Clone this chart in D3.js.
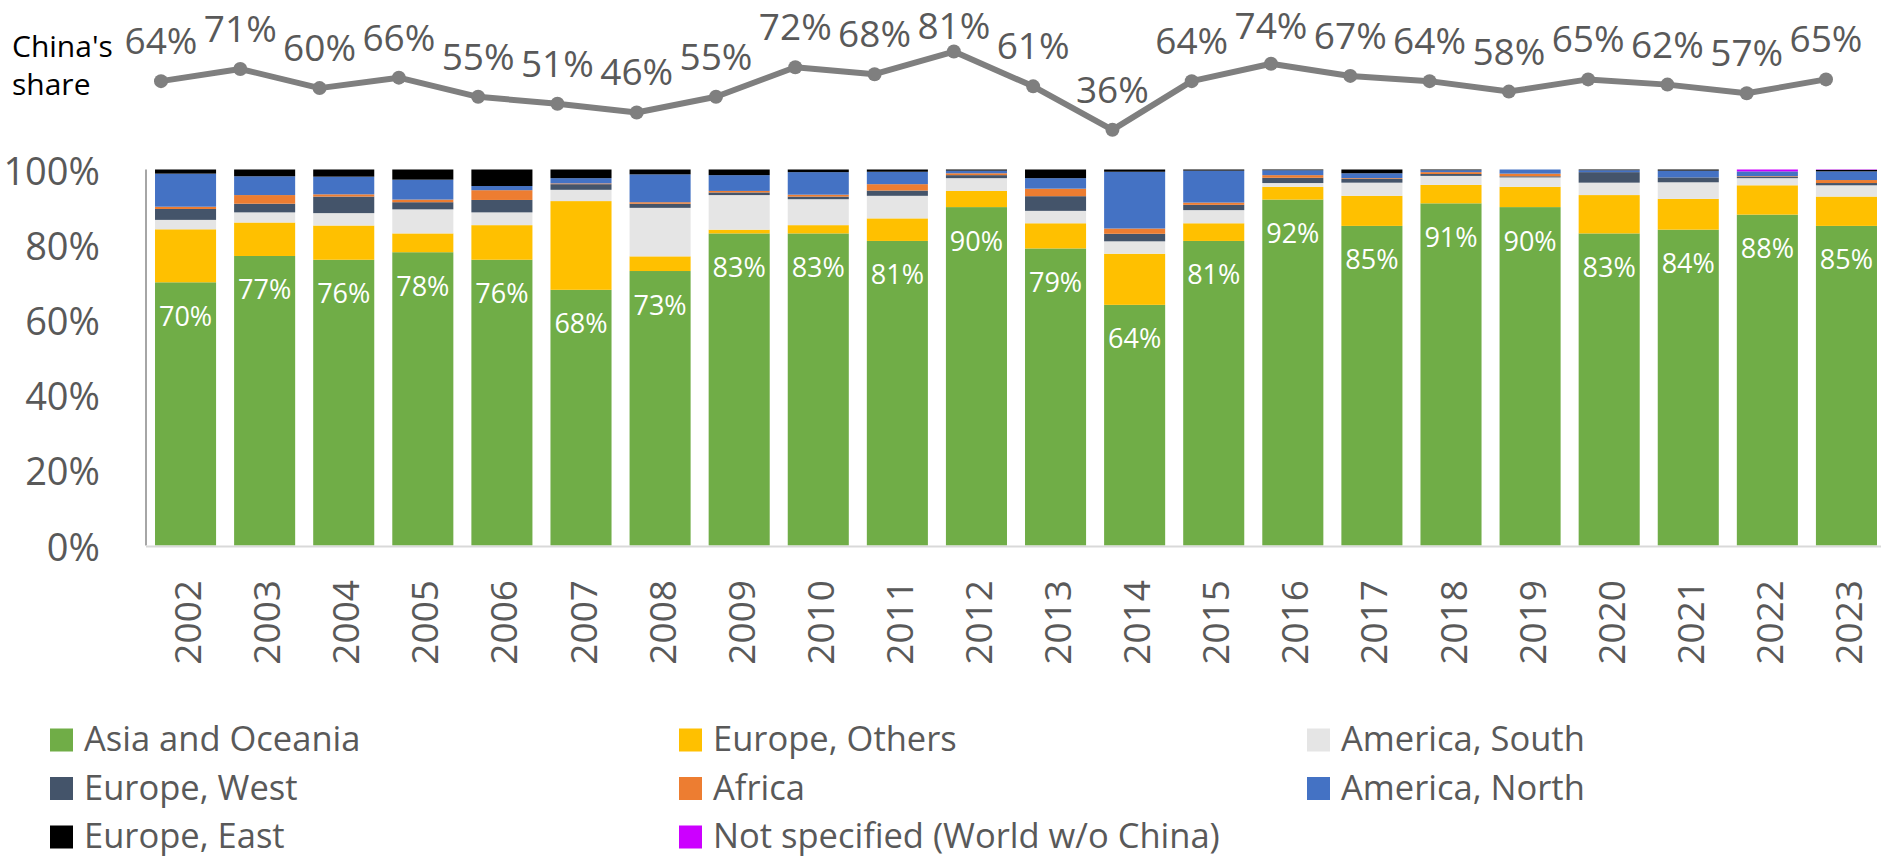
<!DOCTYPE html>
<html>
<head>
<meta charset="utf-8">
<script src="https://cdn.jsdelivr.net/npm/d3@7"></script>
<style>
  html, body { margin: 0; padding: 0; background: #fff; }
  svg { display: block; font-family: "Open Sans", "Noto Sans", sans-serif; }
</style>
</head>
<body>
<svg id="chart" width="1881" height="858"></svg>
<script>
// Years on the x axis
const years = ["2002","2003","2004","2005","2006","2007","2008","2009","2010","2011","2012",
               "2013","2014","2015","2016","2017","2018","2019","2020","2021","2022","2023"];

// Regional shares of exports (percent of each year's total)
const asiaOceania   = [70, 77, 76, 78, 76, 68, 73, 83, 83, 81, 90, 79, 64, 81, 92, 85, 91, 90, 83, 84, 88, 85];
const europeOthers  = [14.1, 8.9, 9.1, 5.0, 9.2, 23.6, 3.9, 1.0, 2.2, 6.0, 4.3, 6.7, 13.6, 4.7, 3.4, 8.0, 4.9, 5.4, 10.2, 8.2, 7.8, 7.8];
const americaSouth  = [2.5, 2.7, 3.3, 6.4, 3.4, 3.0, 12.9, 9.2, 6.9, 6.0, 3.4, 3.3, 3.3, 3.5, 1.0, 3.5, 2.4, 2.5, 3.3, 4.4, 1.9, 3.0];
const europeWest    = [2.9, 2.3, 4.4, 1.9, 3.3, 1.5, 1.1, 0.7, 0.7, 1.4, 0.8, 3.9, 2.0, 1.4, 1.4, 1.0, 0.5, 0.3, 2.8, 1.3, 0.3, 0.6];
const africa        = [0.6, 2.3, 0.6, 0.7, 2.6, 0.2, 0.4, 0.4, 0.5, 1.7, 0.5, 2.0, 1.4, 0.6, 0.7, 0.2, 0.5, 0.7, 0, 0, 0.2, 0.8];
const americaNorth  = [8.8, 5.0, 4.7, 5.3, 1.1, 1.4, 7.4, 4.2, 6.0, 3.3, 0.7, 2.8, 15.1, 8.5, 1.3, 1.3, 0.5, 1.1, 0.5, 1.8, 1.3, 2.3];
const europeEast    = [1.1, 1.8, 1.9, 2.7, 4.4, 2.3, 1.3, 1.5, 0.7, 0.6, 0.3, 2.3, 0.6, 0.3, 0.2, 1.0, 0.2, 0, 0.2, 0.3, 0, 0.4];
const notSpecified  = [0, 0, 0, 0, 0, 0, 0, 0, 0, 0, 0, 0, 0, 0, 0, 0, 0, 0, 0, 0, 0.5, 0.1];

// China's share line
const chinaShare = [64, 71, 60, 66, 55, 51, 46, 55, 72, 68, 81, 61, 36, 64, 74, 67, 64, 58, 65, 62, 57, 65];

// Y axis tick values
const yTicks = [0, 20, 40, 60, 80, 100];

const seriesNames = ["Asia and Oceania", "Europe, Others", "America, South", "Europe, West",
                     "Africa", "America, North", "Europe, East", "Not specified (World w/o China)"];
const seriesValues = [asiaOceania, europeOthers, americaSouth, europeWest,
                      africa, americaNorth, europeEast, notSpecified];
const seriesColors = ["#70AD47", "#FFC000", "#E5E5E5", "#44546A",
                      "#ED7D31", "#4472C4", "#000000", "#CC00FF"];

const rows = years.map((y, i) => {
  const r = { year: y };
  seriesNames.forEach((n, k) => { r[n] = seriesValues[k][i]; });
  return r;
});

const svg = d3.select("#chart");
const textGray = "#595959";

// Scales for the stacked bars
const x = d3.scaleBand().domain(years).range([146, 1886]).paddingInner(0.228).paddingOuter(0.114);
const y = d3.scaleLinear().domain([0, 100]).range([545.5, 169.5]);

// Scales for the line above the bars
const xLine = d3.scalePoint().domain(years).range([161, 1826]);
const yLine = d3.scaleLinear().domain([0, 100]).range([192.5, 18.5]);

const stacked = d3.stack().keys(seriesNames)(rows);

// Bars
const layers = svg.append("g").selectAll("g")
  .data(stacked).join("g")
  .attr("fill", (d, i) => seriesColors[i]);

layers.selectAll("rect")
  .data(d => d).join("rect")
  .attr("x", d => x(d.data.year))
  .attr("width", x.bandwidth())
  .attr("y", d => y(d[1]))
  .attr("height", d => Math.max(0, y(d[0]) - y(d[1])));

// Value labels inside the green segment
svg.append("g").selectAll("text")
  .data(stacked[0]).join("text")
  .attr("x", d => x(d.data.year) + x.bandwidth() / 2)
  .attr("y", d => y(d[1]) + 33)
  .attr("text-anchor", "middle")
  .attr("dominant-baseline", "central")
  .attr("fill", "#fff")
  .attr("font-size", 27)
  .text(d => d3.format(".0f")(d.data[seriesNames[0]]) + "%");

// Y axis
const yAxis = svg.append("g");
yAxis.append("line")
  .attr("x1", 146).attr("x2", 146)
  .attr("y1", y(100)).attr("y2", y(0))
  .attr("stroke", "#a6a6a6").attr("stroke-width", 2);
yAxis.selectAll("text")
  .data(yTicks).join("text")
  .attr("x", 100)
  .attr("y", d => y(d))
  .attr("text-anchor", "end")
  .attr("dominant-baseline", "central")
  .attr("fill", textGray)
  .attr("font-size", 38)
  .text(d => d + "%");

// X axis baseline and rotated year labels
svg.append("line")
  .attr("x1", 146).attr("x2", 1881)
  .attr("y1", y(0) + 1).attr("y2", y(0) + 1)
  .attr("stroke", "#d9d9d9").attr("stroke-width", 2);

svg.append("g").selectAll("text")
  .data(years).join("text")
  .attr("transform", d => `translate(${x(d) + x.bandwidth() / 2 + 1},580) rotate(-90)`)
  .attr("text-anchor", "end")
  .attr("dominant-baseline", "central")
  .attr("fill", textGray)
  .attr("font-size", 37)
  .text(d => d);

// China's share line
const lineGen = d3.line()
  .x((d, i) => xLine(years[i]))
  .y(d => yLine(d));

svg.append("path")
  .datum(chinaShare)
  .attr("d", lineGen)
  .attr("fill", "none")
  .attr("stroke", "#7f7f7f")
  .attr("stroke-width", 6)
  .attr("stroke-linejoin", "round");

svg.append("g").selectAll("circle")
  .data(chinaShare).join("circle")
  .attr("cx", (d, i) => xLine(years[i]))
  .attr("cy", d => yLine(d))
  .attr("r", 7)
  .attr("fill", "#7f7f7f");

svg.append("g").selectAll("text")
  .data(chinaShare).join("text")
  .attr("x", (d, i) => xLine(years[i]))
  .attr("y", d => Math.max(yLine(d) - 27, 39))
  .attr("text-anchor", "middle")
  .attr("fill", textGray)
  .attr("font-size", 37)
  .text(d => d + "%");

const shareLabel = svg.append("text")
  .attr("x", 12)
  .attr("fill", "#000")
  .attr("font-size", 30);
shareLabel.append("tspan").attr("x", 12).attr("y", 57).text("China's");
shareLabel.append("tspan").attr("x", 12).attr("y", 95).text("share");

// Legend: three columns, filled row by row
const legendCols = [50, 679, 1307];
const legendRows = [740, 788.5, 837];
const legend = svg.append("g").selectAll("g")
  .data(seriesNames).join("g")
  .attr("transform", (d, i) => `translate(${legendCols[i % 3]},${legendRows[Math.floor(i / 3)]})`);

legend.append("rect")
  .attr("x", 0).attr("y", -11.5)
  .attr("width", 23).attr("height", 23)
  .attr("fill", (d, i) => seriesColors[i]);

legend.append("text")
  .attr("x", 34)
  .attr("y", 11)
  .attr("fill", textGray)
  .attr("font-size", 34.5)
  .text(d => d);
</script>
</body>
</html>
